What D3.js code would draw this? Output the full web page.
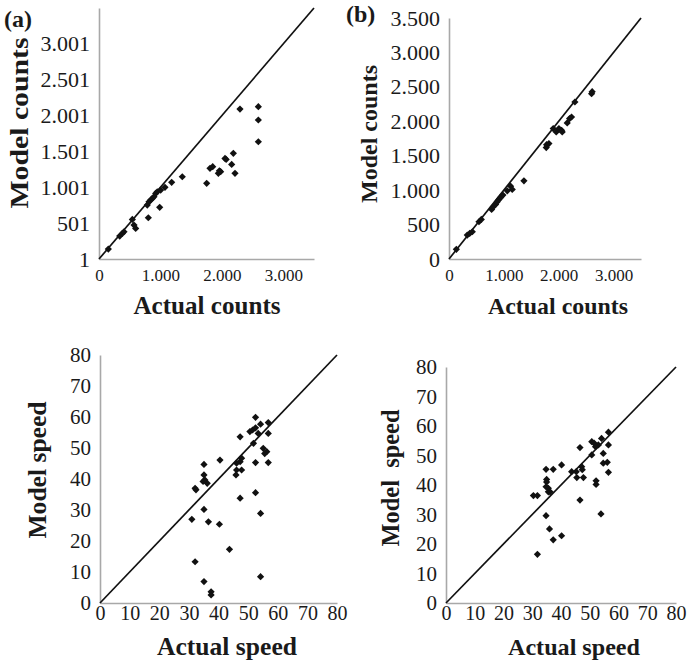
<!DOCTYPE html>
<html lang="en">

<head>
    <meta charset="utf-8">
    <title>Model vs actual</title>
    <script src="https://d3js.org/d3.v7.min.js"></script>
    <style>
        body { margin: 0; background: #fff; }
        text { font-family: "Liberation Serif", "Times New Roman", serif; fill: #1a1a1a; }
    </style>
</head>

<body>
<div id="my_dataviz"></div>

<script>
    // (a) counts, first model
    var actualA = [152, 337, 380, 407, 543, 570, 597, 803, 786, 814, 841, 868, 895, 923, 949, 988, 1004, 1074, 1183, 1356,
        1753, 1807, 1851, 1943, 1980, 1960, 2051, 2070, 2187, 2160, 2214, 2295, 2594, 2594, 2594]
    var modelA = [139, 321, 358, 381, 553, 474, 428, 576, 753, 799, 823, 846, 869, 916, 939, 721, 962, 1000, 1070, 1148,
        1056, 1265, 1288, 1195, 1218, 1230, 1404, 1390, 1474, 1320, 1195, 2092, 2125, 1939, 1636]

    // (b) counts, second model
    var actualB = [134, 333, 377, 425, 546, 589, 777, 807, 850, 880, 911, 941, 983, 1062, 1123, 1153, 1366,
        1773, 1779, 1821, 1900, 1955, 2004, 2052, 2064, 2155, 2198, 2234, 2295, 2599, 2610]
    var modelB = [140, 348, 372, 396, 541, 575, 720, 758, 793, 830, 865, 894, 928, 990, 1058, 1010, 1135,
        1619, 1660, 1677, 1894, 1845, 1894, 1870, 1845, 1976, 2039, 2062, 2280, 2401, 2430]

    // (c) speed, first model
    var actualC = [52.5, 56.8, 54.2, 50.6, 51.5, 52.5, 53.4, 56.8, 47.3, 51.8, 55.1, 56.3, 55.6, 40.5, 47.8, 47.3, 46.1,
        52.5, 56.8, 47.8, 46.1, 45.9, 35.1, 35.1, 35.4, 36.2, 34.8, 32.1, 32.4, 47.3, 52.5, 35.1, 31, 36.6, 40.3, 54.2,
        43.7, 32.1, 35.1, 54.2, 37.5, 37.5]
    var modelC = [59.9, 58.2, 57.7, 55.3, 55.8, 56.5, 54.7, 54.7, 53.6, 51.5, 49.9, 48.8, 48.2, 46.1, 46.7, 45.6, 45.1,
        45.3, 45.3, 42.9, 42.9, 41.3, 44.7, 41.3, 39.7, 38.6, 39.2, 37, 36.5, 33.8, 35.6, 30.2, 27, 26.2, 25.4, 28.9,
        17.3, 13.3, 6.9, 8.5, 3.6, 2.6]

    // (d) speed, second model
    var actualD = [56.5, 54.1, 50.7, 51.5, 53, 52, 46.6, 56.5, 54.7, 50.7, 54.7, 56.1, 56.5, 40.2, 34.8, 37.3, 47.2, 47.4,
        43.7, 45.3, 45.5, 47.8, 52.2, 52.2, 35, 35, 34.8, 35.6, 35.6, 36.2, 30.4, 31.8, 46.6, 53.9, 34.8, 36, 37.3, 40.2, 31.8]
    var modelD = [57.9, 55.8, 54.7, 54.2, 53.6, 53, 52.7, 53.6, 50.7, 50.2, 47.4, 47.7, 44.3, 46.8, 45.3, 45.3, 46.2, 45.2,
        44.5, 44.5, 42.5, 42.5, 41.4, 40.2, 41.9, 41, 39.4, 38.9, 37.7, 37.7, 36.4, 36.4, 34.9, 30.2, 29.6, 25.1, 21.4, 22.8, 16.5]

    // tick values
    var countTicksX = [0, 1000, 2000, 3000]
    var countTicksYA = [1, 501, 1001, 1501, 2001, 2501, 3001]
    var countTicksYB = [0, 500, 1000, 1500, 2000, 2500, 3000, 3500]
    var speedTicks = [0, 10, 20, 30, 40, 50, 60, 70, 80]

    // dots as thousands separator
    var locale = d3.formatLocale({ decimal: ",", thousands: ".", grouping: [3], currency: ["", ""] })
    var fmtCount = locale.format(",")
    var serif = "'Liberation Serif', 'Times New Roman', serif"

    var svg = d3.select("#my_dataviz")
        .append("svg")
        .attr("width", 689)
        .attr("height", 666)

    svg.append("rect").attr("width", 689).attr("height", 666).attr("fill", "#fff")

    // xT / yT = [x, y, font size, text length]
    var panels = [
        {
            xs: actualA, ys: modelA, xDom: [0, 3500], xRange: [99, 314], yDom: [1, 3501], yRange: [259, 8],
            xTicks: countTicksX, yTicks: countTicksYA, fmt: fmtCount, xFont: 17, yFont: 22, xPad: 10,
            xTitle: "Actual counts", xT: [207, 314, 25, 147], yTitle: "Model counts", yT: [28, 123, 25, 171], tag: "(a)", tagPos: [4, 27]
        },
        {
            xs: actualB, ys: modelB, xDom: [0, 3500], xRange: [449, 641], yDom: [0, 3500], yRange: [259, 18],
            xTicks: countTicksX, yTicks: countTicksYB, fmt: fmtCount, xFont: 17, yFont: 22, xPad: 10,
            xTitle: "Actual counts", xT: [558, 314, 24, 140], yTitle: "Model counts", yT: [377, 134, 24, 138], tag: "(b)", tagPos: [346, 22]
        },
        {
            xs: actualC, ys: modelC, xDom: [0, 80], xRange: [100, 337], yDom: [0, 80], yRange: [603, 355],
            xTicks: speedTicks, yTicks: speedTicks, fmt: d3.format("d"), xFont: 20, yFont: 21, xPad: 3,
            xTitle: "Actual speed", xT: [227, 655, 25.5, 140], yTitle: "Model speed", yT: [46, 470, 25.5, 137]
        },
        {
            xs: actualD, ys: modelD, xDom: [0, 80], xRange: [446, 676], yDom: [0, 80], yRange: [603, 367],
            xTicks: speedTicks, yTicks: speedTicks, fmt: d3.format("d"), xFont: 20, yFont: 21, xPad: 3,
            xTitle: "Actual speed", xT: [574, 655, 24, 132], yTitle: "Model\u00a0\u00a0speed", yT: [399, 478, 24.4, 137]
        }
    ]

    panels.forEach(function (p) {
        var x = d3.scaleLinear().domain(p.xDom).range(p.xRange)
        var y = d3.scaleLinear().domain(p.yDom).range(p.yRange)
        var g = svg.append("g")

        // x axis
        var xAxis = g.append("g")
            .attr("transform", "translate(0," + p.yRange[0] + ")")
            .call(d3.axisBottom(x).tickValues(p.xTicks).tickFormat(p.fmt).tickSize(0).tickPadding(p.xPad))
        xAxis.attr("font-family", serif)
        xAxis.selectAll("text").style("font-size", p.xFont + "px").style("font-family", serif).attr("fill", "#1a1a1a")

        // y axis
        var yAxis = g.append("g")
            .attr("transform", "translate(" + p.xRange[0] + ",0)")
            .call(d3.axisLeft(y).tickValues(p.yTicks).tickFormat(p.fmt).tickSize(0).tickPadding(9))
        yAxis.attr("font-family", serif)
        yAxis.selectAll("text").style("font-size", p.yFont + "px").style("font-family", serif).attr("fill", "#1a1a1a")

        g.selectAll(".domain").attr("stroke", "#a8a8a8").attr("stroke-width", 1.6)

        // diagonal y = x, corner to corner
        g.append("line")
            .attr("x1", x(p.xDom[0])).attr("y1", y(p.yDom[0]))
            .attr("x2", x(p.xDom[1])).attr("y2", y(p.yDom[1]))
            .attr("stroke", "#111")
            .attr("stroke-width", 1.7)

        // points
        var pts = p.xs.map(function (v, i) { return { a: v, m: p.ys[i] } })
        g.selectAll("path.pt")
            .data(pts)
            .enter()
            .append("path")
            .attr("class", "pt")
            .attr("d", d3.symbol().type(d3.symbolSquare).size(26))
            .attr("transform", function (d) { return "translate(" + x(d.a) + "," + y(d.m) + ") rotate(45)" })
            .attr("fill", "#111")

        // titles
        g.append("text")
            .attr("x", p.xT[0]).attr("y", p.xT[1])
            .attr("text-anchor", "middle")
            .attr("textLength", p.xT[3])
            .attr("lengthAdjust", "spacingAndGlyphs")
            .style("font-size", p.xT[2] + "px")
            .style("font-weight", "bold")
            .text(p.xTitle)
        g.append("text")
            .attr("transform", "translate(" + p.yT[0] + "," + p.yT[1] + ") rotate(-90)")
            .attr("text-anchor", "middle")
            .attr("textLength", p.yT[3])
            .attr("lengthAdjust", "spacingAndGlyphs")
            .style("font-size", p.yT[2] + "px")
            .style("font-weight", "bold")
            .text(p.yTitle)

        if (p.tag) {
            g.append("text")
                .attr("x", p.tagPos[0]).attr("y", p.tagPos[1])
                .style("font-size", "24px")
                .style("font-weight", "bold")
                .text(p.tag)
        }
    })
</script>
</body>

</html>
